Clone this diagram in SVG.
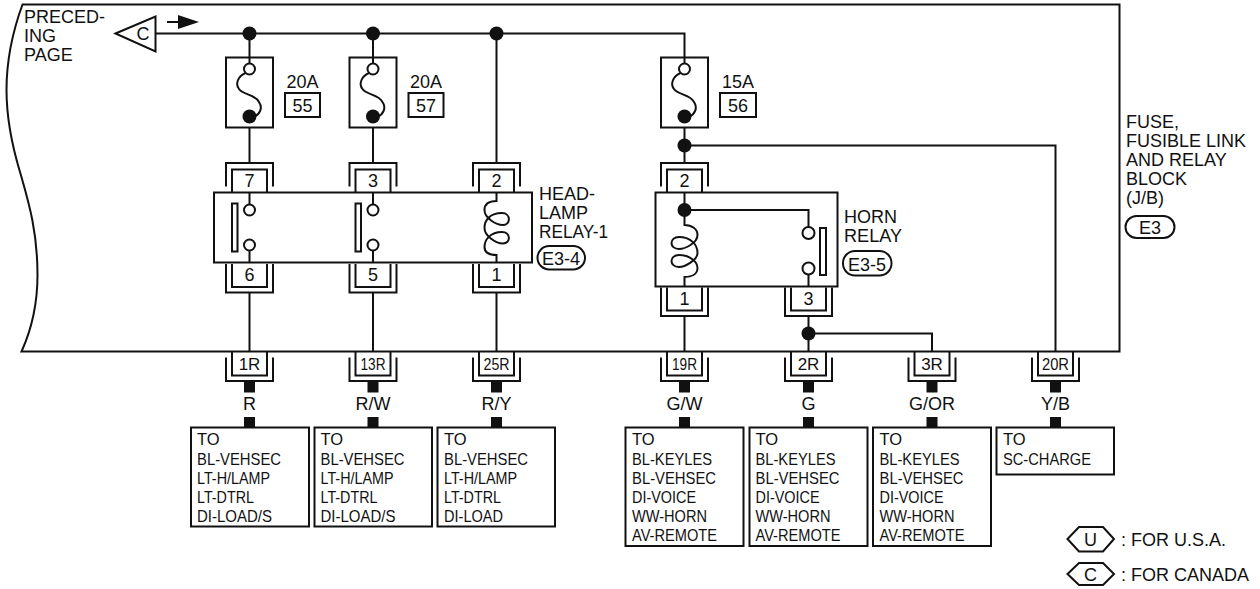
<svg xmlns="http://www.w3.org/2000/svg" width="1260" height="589" viewBox="0 0 1260 589">
<style>
text{font-family:"Liberation Sans",Arial,sans-serif;fill:#111;font-size:18px}
.m{text-anchor:middle}
.p{font-size:17px}
.s{font-size:16.500px}
.b{fill:none;stroke:#111;stroke-width:2}
.w{fill:none;stroke:#111;stroke-width:2}
.o{fill:#fff;stroke:#111;stroke-width:2}
.d{fill:#111;stroke:none}
</style>
<defs>
<g id="fuse"><rect class="b" x="-23.500" y="0" width="47" height="70"/><path class="w" d="M0 0V6"/><path class="w" d="M-4 15.500C-11.500 18.500-14.500 26.500-10.500 31.500C-6.500 37.500 5.500 36.500 9.500 44.500C13.500 50.500 10.500 56.500 4.500 59.500"/><circle class="o" cx="0" cy="11.500" r="5.500"/><circle class="d" cx="0" cy="59" r="7"/></g>
<g id="ct"><path class="b" d="M-23.500 23.500V0H23.500V23.500"/><path class="b" d="M-17.500 29.500V6.500H17.500V29.500"/></g>
<g id="cb"><path class="b" d="M-23.500 0V28.500H23.500V0"/><path class="b" d="M-17.500 0V23H17.500V0"/></g>
<g id="cs"><path class="b" d="M-23.500 5.500V29H23.500V5.500"/><path class="b" d="M-17.500 0V23.500H17.500V0"/><rect class="d" x="-5.500" y="30" width="11" height="10.500"/><rect class="d" x="-5.500" y="65" width="11" height="10.500"/></g>
<g id="contact"><rect class="b" x="-17.500" y="11" width="5.500" height="48"/><path class="w" d="M0 0V12M0 58V70"/><circle class="o" cx="0" cy="17.500" r="5.500"/><circle class="o" cx="0" cy="52.500" r="5.500"/></g>
</defs>
<g id="frame"><path class="b" d="M22.500 4.500H1119.500V351.500H21.500C29 335 37.500 312 37.500 275C37.500 230 28 200 20 172C11 142 6.500 115 6.500 90C6.500 55 15 25 22.500 4.500Z"/></g>
<g id="connectors">
<path class="w" d="M155.500 33.500H684.500V57.500"/>
<path class="w" d="M249.500 33.500V57.500M249.500 127.500V163M249.500 292.500V351"/>
<path class="w" d="M373 33.500V57.500M373 127.500V163M373 292.500V351"/>
<path class="w" d="M496.500 33.500V163M496.500 292.500V351"/>
<path class="w" d="M684.500 127.500V163M684.500 145.500H1055.500V351"/>
<path class="w" d="M684.500 316V351M808.500 316V351M808.500 333.500H932V351"/>
<circle class="d" cx="249.500" cy="33.500" r="7"/><circle class="d" cx="373" cy="33.500" r="7"/><circle class="d" cx="496.500" cy="33.500" r="7"/><circle class="d" cx="684.500" cy="145.500" r="7"/><circle class="d" cx="808.500" cy="333.500" r="7"/>
<path class="w" d="M167 22H180"/><path class="d" d="M178 15L199 22L178 29Z"/>
</g>
<g id="offpage"><path class="b" d="M115.500 33.500L155.500 16.500V51.500Z"/><text x="143" y="40" class="m">C</text><text x="24" y="23">PRECED-</text><text x="24" y="42">ING</text><text x="24" y="61">PAGE</text></g>
<g id="fuse55"><use href="#fuse" x="249.500" y="57.500"/><text x="302.500" y="88" class="m">20A</text><rect class="b" x="285" y="93" width="35" height="24"/><text x="302.500" y="111.500" class="m">55</text></g>
<g id="fuse57"><use href="#fuse" x="373" y="57.500"/><text x="426" y="88" class="m">20A</text><rect class="b" x="408.500" y="93" width="35" height="24"/><text x="426" y="111.500" class="m">57</text></g>
<g id="fuse56"><use href="#fuse" x="684.500" y="57.500"/><text x="738" y="88" class="m">15A</text><rect class="b" x="720" y="93" width="36" height="24"/><text x="738" y="111.500" class="m">56</text></g>
<g id="headlamp-relay">
<rect class="b" x="214" y="192.500" width="318" height="70"/>
<use href="#contact" x="249.500" y="192.500"/><use href="#contact" x="373" y="192.500"/>
<path class="w" d="M496.500 192.500V201C488 201 484.500 205 484.500 210C484.500 218 496 225 503 225C511 225 511 213 502 213C490 213 484.500 220 484.500 228C484.500 236 496 243.500 503 243.500C511 243.500 511 232 502 232C490 232 484.500 240 484.500 247C484.500 252 488 255 496.500 255V262.500"/>
<use href="#ct" x="249.500" y="163"/><use href="#ct" x="373" y="163"/><use href="#ct" x="496.500" y="163"/>
<use href="#cb" x="249.500" y="264"/><use href="#cb" x="373" y="264"/><use href="#cb" x="496.500" y="264"/>
<text x="249.500" y="187" class="m">7</text><text x="373" y="187" class="m">3</text><text x="496.500" y="187" class="m">2</text>
<text x="249.500" y="281" class="m">6</text><text x="373" y="281" class="m">5</text><text x="496.500" y="281" class="m">1</text>
<text x="539" y="200">HEAD-</text><text x="539" y="218.500">LAMP</text><text x="539" y="237.500" textLength="69" lengthAdjust="spacingAndGlyphs">RELAY-1</text>
<rect class="b" x="537.500" y="246" width="47.500" height="23.500" rx="11.700"/><text x="561" y="264.500" class="m">E3-4</text>
</g>
<g id="horn-relay">
<rect class="b" x="655.500" y="192.500" width="182" height="94"/>
<path class="w" d="M684.500 192.500V225C692 225 697.500 229 697.500 235C697.500 243 685 249 679 249C669 249 669 237 679 237C690 237 697.500 244 697.500 253C697.500 260 685 267 679 267C669 267 669 255 679 255C690 255 697.500 262 697.500 268C697.500 274 692 277 684.500 277V286.500"/>
<path class="w" d="M684.500 210H808.500V228M808.500 274V286.500"/>
<circle class="d" cx="684.500" cy="210" r="7"/>
<circle class="o" cx="808.500" cy="233" r="6"/><circle class="o" cx="808.500" cy="268.500" r="6"/>
<rect class="b" x="820" y="228" width="6" height="47"/>
<use href="#ct" x="684.500" y="163"/><use href="#cb" x="684.500" y="287.500"/><use href="#cb" x="808.500" y="287.500"/>
<text x="684.500" y="187" class="m">2</text><text x="684.500" y="305" class="m">1</text><text x="808.500" y="305" class="m">3</text>
<text x="844" y="222.500">HORN</text><text x="844" y="241.500" textLength="58" lengthAdjust="spacingAndGlyphs">RELAY</text>
<rect class="b" x="843" y="251" width="48.500" height="24.500" rx="12"/><text x="867" y="270.500" class="m">E3-5</text>
</g>
<g id="jb-label"><text x="1126" y="127.500">FUSE,</text><text x="1126" y="146.500">FUSIBLE LINK</text><text x="1126" y="165.500">AND RELAY</text><text x="1126" y="184.500">BLOCK</text><text x="1126" y="203.500">(J/B)</text><rect class="b" x="1125.500" y="216" width="49" height="22" rx="11"/><text x="1150" y="233.500" class="m">E3</text></g>
<g id="pin-1R"><use href="#cs" x="249.500" y="352"/><text x="249.500" y="370" class="m p">1R</text><text x="249.500" y="410" class="m">R</text></g>
<g id="pin-13R"><use href="#cs" x="373" y="352"/><text x="373" y="370" class="m p" textLength="25" lengthAdjust="spacingAndGlyphs">13R</text><text x="373" y="410" class="m">R/W</text></g>
<g id="pin-25R"><use href="#cs" x="496.500" y="352"/><text x="496.500" y="370" class="m p" textLength="26" lengthAdjust="spacingAndGlyphs">25R</text><text x="496.500" y="410" class="m">R/Y</text></g>
<g id="pin-19R"><use href="#cs" x="684.500" y="352"/><text x="684.500" y="370" class="m p" textLength="25" lengthAdjust="spacingAndGlyphs">19R</text><text x="684.500" y="410" class="m">G/W</text></g>
<g id="pin-2R"><use href="#cs" x="808.500" y="352"/><text x="808.500" y="370" class="m p">2R</text><text x="808.500" y="410" class="m">G</text></g>
<g id="pin-3R"><use href="#cs" x="932" y="352"/><text x="932" y="370" class="m p">3R</text><text x="932" y="410" class="m">G/OR</text></g>
<g id="pin-20R"><use href="#cs" x="1055.500" y="352"/><text x="1055.500" y="370" class="m p" textLength="27" lengthAdjust="spacingAndGlyphs">20R</text><text x="1055.500" y="410" class="m">Y/B</text></g>
<g id="to-1"><rect class="b" x="191" y="427.500" width="118" height="99"/><text x="197" y="444.500" class="s">TO</text><text x="197" y="464.500" class="s" textLength="84" lengthAdjust="spacingAndGlyphs">BL-VEHSEC</text><text x="197" y="483.500" class="s" textLength="73" lengthAdjust="spacingAndGlyphs">LT-H/LAMP</text><text x="197" y="502.500" class="s" textLength="57" lengthAdjust="spacingAndGlyphs">LT-DTRL</text><text x="197" y="521.500" class="s" textLength="75" lengthAdjust="spacingAndGlyphs">DI-LOAD/S</text></g>
<g id="to-2"><rect class="b" x="314.500" y="427.500" width="117.500" height="99"/><text x="320.500" y="444.500" class="s">TO</text><text x="320.500" y="464.500" class="s" textLength="84" lengthAdjust="spacingAndGlyphs">BL-VEHSEC</text><text x="320.500" y="483.500" class="s" textLength="73" lengthAdjust="spacingAndGlyphs">LT-H/LAMP</text><text x="320.500" y="502.500" class="s" textLength="57" lengthAdjust="spacingAndGlyphs">LT-DTRL</text><text x="320.500" y="521.500" class="s" textLength="75" lengthAdjust="spacingAndGlyphs">DI-LOAD/S</text></g>
<g id="to-3"><rect class="b" x="437.500" y="427.500" width="117.500" height="99"/><text x="444" y="444.500" class="s">TO</text><text x="444" y="464.500" class="s" textLength="84" lengthAdjust="spacingAndGlyphs">BL-VEHSEC</text><text x="444" y="483.500" class="s" textLength="73" lengthAdjust="spacingAndGlyphs">LT-H/LAMP</text><text x="444" y="502.500" class="s" textLength="57" lengthAdjust="spacingAndGlyphs">LT-DTRL</text><text x="444" y="521.500" class="s" textLength="59" lengthAdjust="spacingAndGlyphs">DI-LOAD</text></g>
<g id="to-4"><rect class="b" x="625.500" y="427.500" width="118" height="118.500"/><text x="632" y="444.500" class="s">TO</text><text x="632" y="464.500" class="s" textLength="80" lengthAdjust="spacingAndGlyphs">BL-KEYLES</text><text x="632" y="483.500" class="s" textLength="84" lengthAdjust="spacingAndGlyphs">BL-VEHSEC</text><text x="632" y="502.500" class="s" textLength="64" lengthAdjust="spacingAndGlyphs">DI-VOICE</text><text x="632" y="521.500" class="s" textLength="75" lengthAdjust="spacingAndGlyphs">WW-HORN</text><text x="632" y="540.500" class="s" textLength="85" lengthAdjust="spacingAndGlyphs">AV-REMOTE</text></g>
<g id="to-5"><rect class="b" x="749.500" y="427.500" width="118" height="118.500"/><text x="755.500" y="444.500" class="s">TO</text><text x="755.500" y="464.500" class="s" textLength="80" lengthAdjust="spacingAndGlyphs">BL-KEYLES</text><text x="755.500" y="483.500" class="s" textLength="84" lengthAdjust="spacingAndGlyphs">BL-VEHSEC</text><text x="755.500" y="502.500" class="s" textLength="64" lengthAdjust="spacingAndGlyphs">DI-VOICE</text><text x="755.500" y="521.500" class="s" textLength="75" lengthAdjust="spacingAndGlyphs">WW-HORN</text><text x="755.500" y="540.500" class="s" textLength="85" lengthAdjust="spacingAndGlyphs">AV-REMOTE</text></g>
<g id="to-6"><rect class="b" x="873" y="427.500" width="118" height="118.500"/><text x="879.500" y="444.500" class="s">TO</text><text x="879.500" y="464.500" class="s" textLength="80" lengthAdjust="spacingAndGlyphs">BL-KEYLES</text><text x="879.500" y="483.500" class="s" textLength="84" lengthAdjust="spacingAndGlyphs">BL-VEHSEC</text><text x="879.500" y="502.500" class="s" textLength="64" lengthAdjust="spacingAndGlyphs">DI-VOICE</text><text x="879.500" y="521.500" class="s" textLength="75" lengthAdjust="spacingAndGlyphs">WW-HORN</text><text x="879.500" y="540.500" class="s" textLength="85" lengthAdjust="spacingAndGlyphs">AV-REMOTE</text></g>
<g id="to-7"><rect class="b" x="996.500" y="427.500" width="117.500" height="47"/><text x="1003" y="444.500" class="s">TO</text><text x="1003" y="464.500" class="s" textLength="88" lengthAdjust="spacingAndGlyphs">SC-CHARGE</text></g>
<g id="legend"><path class="b" d="M1067.500 539L1079 527H1103L1114 539L1103 551.500H1079Z"/><text x="1090.500" y="546" class="m">U</text><text x="1121" y="546">: FOR U.S.A.</text><path class="b" d="M1067.500 574L1079 563H1103L1114 574L1103 585H1079Z"/><text x="1090.500" y="581" class="m">C</text><text x="1121" y="581">: FOR CANADA</text></g>
</svg>
